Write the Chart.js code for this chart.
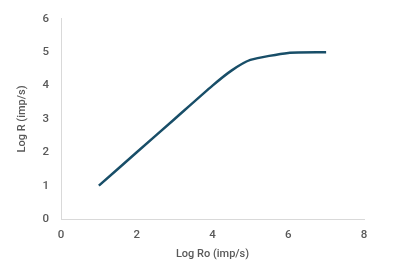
<!DOCTYPE html>
<html>
<head>
<meta charset="utf-8">
<script src="https://cdn.jsdelivr.net/npm/chart.js@4"></script>
<style>
  html, body { margin: 0; padding: 0; background: #fff; }
  #wrap { width: 400px; height: 274px; }
</style>
</head>
<body>
<div id="wrap"><canvas id="chart"></canvas></div>
<script>
// values
const logRo = [1, 2, 3, 4, 4.5, 5, 6, 7];
const logR  = [1, 2, 3, 4, 4.45, 4.77, 4.98, 5];
const xTicks = [0, 2, 4, 6, 8];
const yTicks = [0, 1, 2, 3, 4, 5, 6];

const points = logRo.map((x, i) => ({ x: x, y: logR[i] }));

const tickFont = { family: 'Roboto, "Noto Sans", sans-serif', size: 11.5, weight: '500' };
const titleFont = { family: 'Roboto, "Noto Sans", sans-serif', size: 11, weight: '500' };
const grey = '#595959';

new Chart(document.getElementById('chart').getContext('2d'), {
    type: 'scatter',
    data: {
        datasets: [{
            data: points,
            showLine: true,
            borderColor: '#184e68',
            borderWidth: 2.5,
            pointRadius: 0,
            tension: 0.2
        }]
    },
    options: {
        responsive: true,
        maintainAspectRatio: false,
        animation: false,
        layout: { padding: { left: 12, right: 36, top: 16, bottom: 9 } },
        plugins: { legend: { display: false }, tooltip: { enabled: false } },
        scales: {
            x: {
                min: 0, max: 8,
                afterBuildTicks: (axis) => { axis.ticks = xTicks.map(v => ({ value: v })); },
                afterFit: (axis) => { axis.height = 46; },
                grid: { display: false, drawTicks: false },
                border: { color: '#d9d9d9', width: 1 },
                ticks: { color: grey, font: tickFont, padding: 9 },
                title: { display: true, text: 'Log Ro (imp/s)', color: grey, font: titleFont, padding: { top: 10 } }
            },
            y: {
                min: 0, max: 6,
                afterBuildTicks: (axis) => { axis.ticks = yTicks.map(v => ({ value: v })); },
                afterFit: (axis) => { axis.width = 49; },
                grid: { display: false, drawTicks: false },
                border: { color: '#d9d9d9', width: 1 },
                ticks: { color: grey, font: tickFont, padding: 12 },
                title: { display: true, text: 'Log R (imp/s)', color: grey, font: titleFont, padding: { bottom: 2 } }
            }
        }
    }
});
</script>
</body>
</html>
